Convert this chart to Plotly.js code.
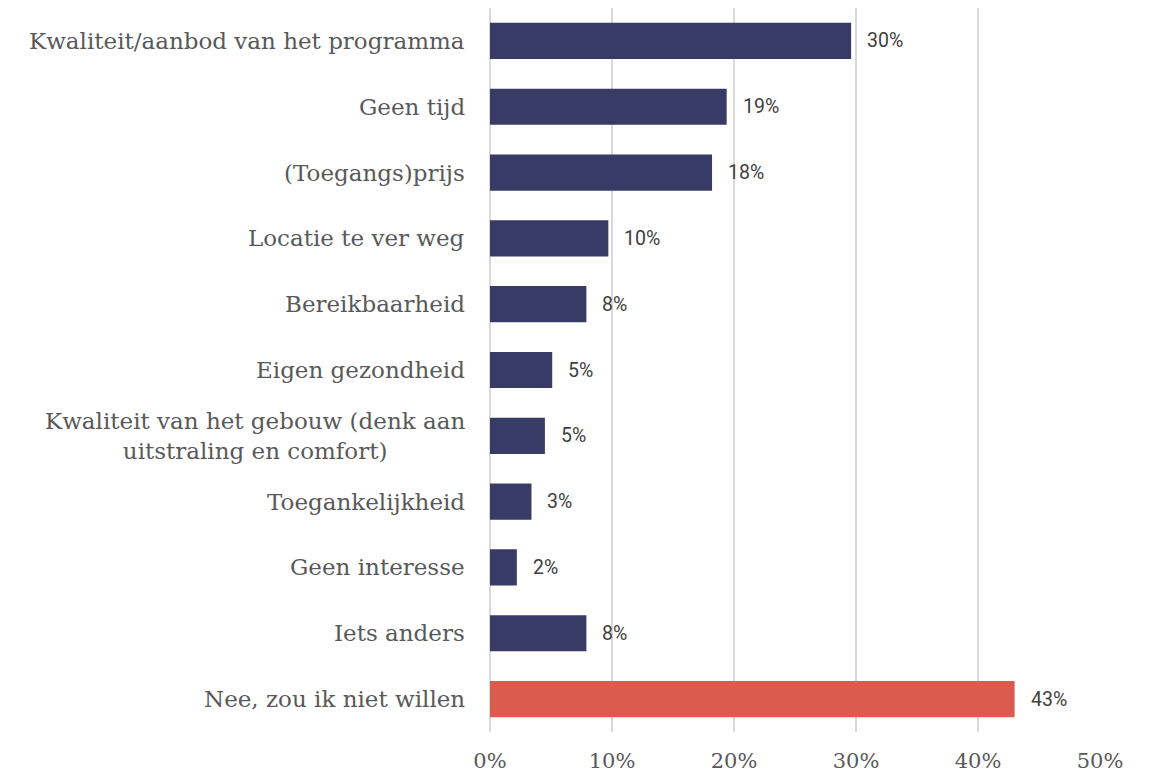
<!DOCTYPE html>
<html>
<head>
<meta charset="utf-8">
<script src="https://cdn.plot.ly/plotly-3.0.1.min.js"></script>
<style>html,body{margin:0;padding:0;background:#fff;}#chart{width:1152px;height:776px;}</style>
</head>
<body>
<div id="chart"></div>
<script>
var categories = [
  "Kwaliteit/aanbod van het programma",
  "Geen tijd",
  "(Toegangs)prijs",
  "Locatie te ver weg",
  "Bereikbaarheid",
  "Eigen gezondheid",
  "Kwaliteit van het gebouw (denk aan<br>uitstraling en comfort)",
  "Toegankelijkheid",
  "Geen interesse",
  "Iets anders",
  "Nee, zou ik niet willen"
];
var values = [0.296, 0.194, 0.182, 0.097, 0.079, 0.051, 0.045, 0.034, 0.022, 0.079, 0.430];
var valueLabels = ["30%", "19%", "18%", "10%", "8%", "5%", "5%", "3%", "2%", "8%", "43%"];
var barColors = ["#383B66","#383B66","#383B66","#383B66","#383B66","#383B66","#383B66","#383B66","#383B66","#383B66","#DB5B50"];
var tickVals = [0, 0.1, 0.2, 0.3, 0.4, 0.5];
var tickText = ["0%", "10%", "20%", "30%", "40%", "50%"];

var idx = categories.map(function(_, i){ return i; });

var trace = {
  type: "bar",
  orientation: "h",
  x: values,
  y: idx,
  marker: {color: barColors, line: {width: 0}},
  width: 0.55,
  hoverinfo: "none"
};

var annotations = [];
categories.forEach(function(c, i){
  annotations.push({
    xref: "paper", yref: "y", x: 0, y: i,
    xanchor: "right", yanchor: "middle", xshift: -23,
    text: c, showarrow: false, align: "center",
    font: {family: "DejaVu Serif", size: 23, color: "#595959"}
  });
  annotations.push({
    xref: "x", yref: "y", x: values[i], y: i,
    xanchor: "left", yanchor: "middle", xshift: 14,
    text: valueLabels[i], showarrow: false,
    font: {family: "Roboto", size: 19.5, color: "#404040"}
  });
});

var layout = {
  width: 1152, height: 776,
  margin: {l: 490, r: 52, t: 8, b: 44},
  paper_bgcolor: "#ffffff",
  plot_bgcolor: "#ffffff",
  showlegend: false,
  xaxis: {
    range: [0, 0.5],
    tickvals: tickVals,
    ticktext: tickText,
    showgrid: true,
    gridcolor: "#D9D9D9",
    gridwidth: 2,
    zeroline: true,
    zerolinecolor: "#D9D9D9",
    zerolinewidth: 2,
    showline: false,
    ticks: "",
    ticklabelstandoff: 14,
    tickfont: {family: "DejaVu Serif", size: 21, color: "#595959"},
    fixedrange: true
  },
  yaxis: {
    range: [10.5, -0.5],
    showticklabels: false,
    showgrid: false,
    zeroline: false,
    ticks: "",
    fixedrange: true
  },
  annotations: annotations
};

Plotly.newPlot("chart", [trace], layout, {displayModeBar: false, staticPlot: true});
</script>
</body>
</html>
